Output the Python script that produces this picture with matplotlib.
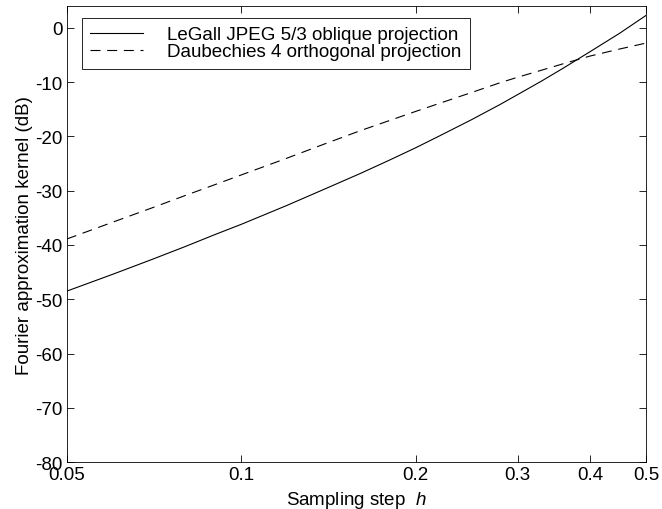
import matplotlib
matplotlib.use("Agg")
import matplotlib.pyplot as plt
from matplotlib.ticker import FixedLocator, FixedFormatter, NullLocator

# values
h = [0.05, 0.06, 0.07, 0.08, 0.09, 0.1, 0.12, 0.14, 0.16, 0.18, 0.2,
     0.22, 0.25, 0.28, 0.3, 0.33, 0.36, 0.4, 0.45, 0.5]
legall = [-48.5, -45.4, -42.7, -40.3, -38.1, -36.2, -32.7, -29.6, -26.9, -24.4, -22.1,
          -19.9, -16.9, -14.1, -12.3, -9.8, -7.4, -4.4, -1.0, 2.3]
daub4 = [-38.9, -35.8, -33.2, -30.9, -28.9, -27.1, -24.0, -21.3, -19.0, -17.1, -15.4,
         -13.9, -11.9, -10.1, -9.1, -7.8, -6.6, -5.2, -3.9, -2.8]
xticks = [0.05, 0.1, 0.2, 0.3, 0.4, 0.5]
xticklabels = ["0.05", "0.1", "0.2", "0.3", "0.4", "0.5"]
yticks = [-80, -70, -60, -50, -40, -30, -20, -10, 0]

plt.rcParams['font.family'] = ['Liberation Sans', 'DejaVu Sans']
plt.rcParams['font.size'] = 13.5
plt.rcParams['axes.unicode_minus'] = False
plt.rcParams['mathtext.fontset'] = 'custom'
plt.rcParams['mathtext.it'] = 'Liberation Sans:italic'
plt.rcParams['mathtext.rm'] = 'Liberation Sans'

fig = plt.figure(figsize=(6.62, 5.10), dpi=100)
ax = fig.add_axes([0.101, 0.092, 0.875, 0.894])

ax.plot(h, legall, color='black', lw=0.8, label='LeGall JPEG 5/3 oblique projection')
ax.plot(h, daub4, color='black', lw=0.8, dashes=(9, 6), label='Daubechies 4 orthogonal projection')

ax.set_xscale('log')
ax.set_xlim(0.05, 0.5)
ax.set_ylim(-80, 4)
ax.xaxis.set_major_locator(FixedLocator(xticks))
ax.xaxis.set_major_formatter(FixedFormatter(xticklabels))
ax.xaxis.set_minor_locator(NullLocator())
ax.set_yticks(yticks)
ax.tick_params(direction='in', length=5, width=0.6, top=True, right=True, labelsize=13.5)
ax.tick_params(axis='x', pad=3)
ax.tick_params(axis='y', pad=3)
for s in ax.spines.values():
    s.set_linewidth(0.6)

ax.set_xlabel(r'Sampling step  $h$', fontsize=13.5, labelpad=4)
ax.set_ylabel('Fourier approximation kernel (dB)', fontsize=13.5, labelpad=2)

leg = ax.legend(loc='upper left', bbox_to_anchor=(0.026, 0.975), fontsize=13.5,
                fancybox=False, shadow=False, framealpha=1, edgecolor='black',
                handlelength=2.8, handletextpad=1.3, labelspacing=0.0,
                borderpad=0.45, borderaxespad=0)
leg.get_frame().set_linewidth(0.6)

fig.savefig('out.png', dpi=100)
